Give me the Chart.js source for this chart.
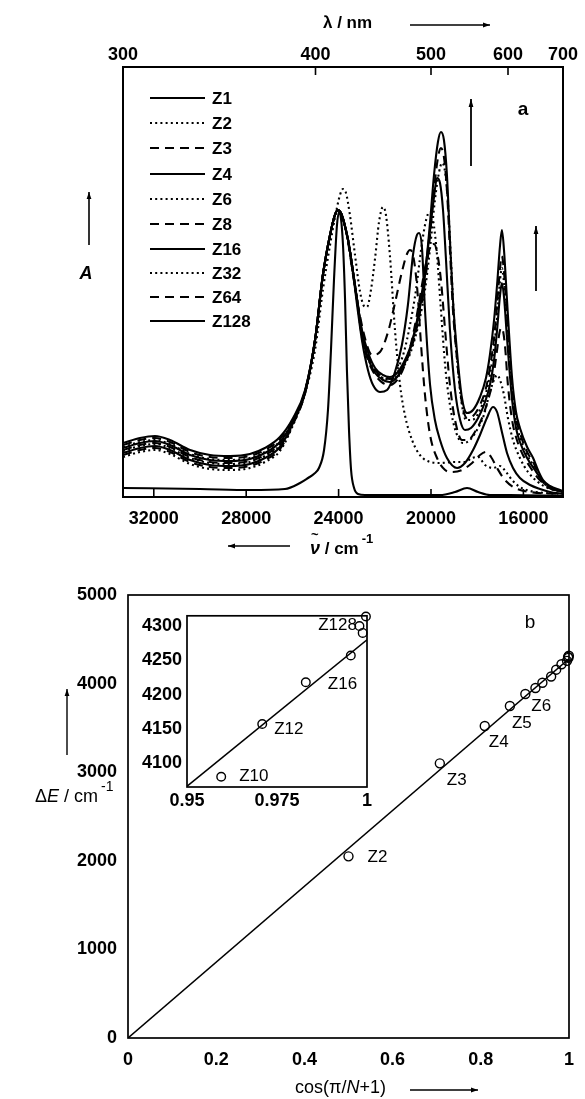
<!DOCTYPE html>
<html>
<head>
<meta charset="utf-8">
<script src="https://cdn.jsdelivr.net/npm/chart.js@4.4.1/dist/chart.umd.min.js"></script>
<style>
html,body{margin:0;padding:0;background:#fff;}
#wrap{position:relative;width:585px;height:1099px;overflow:hidden;background:#fff;}
canvas{position:absolute;display:block;}
</style>
</head>
<body>
<div id="wrap">
<canvas id="ca" width="585" height="560" style="left:0;top:0"></canvas>
<canvas id="cb" width="585" height="539" style="left:0;top:560px"></canvas>
<canvas id="ci" width="250" height="215" style="left:130px;top:600px"></canvas>
</div>
<script>
// ---------------- Panel a : absorption spectra (wavenumber / cm-1, relative absorbance) ----------------
const wnTicks = [32000, 28000, 24000, 20000, 16000];
const nmTicks = [300, 400, 500, 600, 700];
const seriesNames = ['Z1','Z2','Z3','Z4','Z6','Z8','Z16','Z32','Z64','Z128'];
const seriesStyle = ['solid','dotted','dashed','solid','dotted','dashed','solid','dotted','dashed','solid'];

const z1Wn = [33330,30000,27840,26320,25670,25320,25070,24850,24630,24460,24330,24200,24070,23980,23900,23810,23720,23640,23550,23460,23330,23160,22860,19610,18960,18440,17960,17450,16580,14290];
const z1A  = [9,8,7,8,14,19,23,29,47,87,147,217,272,285,279,252,197,127,67,27,9,3,2,2,5,9,5,2,2,1];

const z2Wn = [33330,32600,31950,31300,30430,29570,28700,27840,27190,26540,25970,25450,25020,24680,24370,24160,23940,23810,23680,23510,23290,23070,22900,22770,22600,22420,22250,22080,21950,21780,21560,21340,21130,20820,20480,20040,19610,18960,18530,18220,17960,17660,17320,17010,16750,16490,16150,15710,15070,14290];
const z2A  = [40,45,47,43,33,28,27,29,35,46,72,104,147,207,252,279,302,308,304,282,242,205,191,190,207,239,275,290,282,242,167,112,82,57,42,35,34,35,35,39,40,32,29,31,25,17,10,6,4,3];

const z3Wn = [33330,32600,31950,31300,30430,29570,28700,27840,27190,26540,25970,25450,25020,24680,24370,24160,24030,23900,23770,23590,23420,23200,22860,22550,22210,21860,21560,21260,21040,20910,20780,20610,20430,20260,20040,19740,19390,19090,18660,18220,17880,17620,17400,17140,16800,16360,15710,14290];
const z3A  = [42,47,49,45,35,30,29,31,37,48,73,104,157,222,262,282,287,284,275,255,229,197,159,142,145,165,194,225,243,247,242,212,152,102,62,39,27,25,27,34,42,45,40,29,17,9,5,3];

const z4Wn = [33330,32600,31950,31300,30430,29570,28700,27840,27190,26540,25970,25450,25020,24680,24370,24160,24030,23900,23770,23590,23420,23200,22990,22730,22510,22210,21900,21560,21260,21000,20780,20610,20520,20390,20260,20040,19830,19610,19310,18870,18530,18180,17880,17580,17320,17140,16930,16710,16450,16150,15710,15280,14850,14290];
const z4A  = [44,49,51,47,37,32,31,33,39,50,74,104,157,222,262,282,287,284,275,257,232,192,157,127,112,105,107,125,152,192,242,262,264,249,187,112,77,57,39,29,34,47,62,79,90,85,65,44,29,19,12,8,5,3];

const z6Wn = [33330,32600,31950,31300,30430,29570,28700,27840,27190,26540,25970,25450,25020,24680,24370,24160,24030,23900,23770,23590,23420,23200,22990,22730,22420,22080,21780,21470,21170,20910,20650,20430,20260,20130,20040,19910,19740,19570,19390,19180,18920,18610,18310,18010,17710,17450,17270,17140,17010,16840,16670,16450,16150,15800,15370,14940,14290];
const z6A  = [46,51,53,49,39,34,33,35,41,52,75,105,157,222,262,282,287,284,275,257,232,197,161,139,125,119,119,127,145,172,207,247,272,283,285,277,242,187,132,92,65,54,57,67,82,105,117,122,117,102,79,57,39,25,15,9,5];

const z8Wn = [33330,32600,31950,31300,30430,29570,28700,27840,27190,26540,25970,25450,25020,24680,24370,24160,24030,23900,23770,23590,23420,23200,22990,22730,22420,22080,21780,21470,21170,20910,20650,20390,20170,20000,19870,19740,19570,19390,19180,18960,18660,18400,18100,17790,17530,17320,17140,17010,16930,16800,16670,16490,16280,16020,15710,15370,14940,14290];
const z8A  = [47,52,54,50,40,35,34,36,42,53,75,105,157,222,262,282,287,284,275,257,232,197,160,137,122,114,112,117,130,149,177,212,239,251,253,245,217,167,112,77,57,57,65,79,97,117,147,167,169,152,112,77,57,42,30,19,10,5];

const z16Wn = [33330,32600,31950,31300,30430,29570,28700,27840,27190,26540,25970,25450,25020,24680,24370,24160,24030,23900,23770,23590,23420,23200,22990,22730,22420,22080,21780,21470,21170,20910,20690,20480,20260,20040,19870,19740,19610,19480,19350,19180,18960,18740,18530,18270,17960,17660,17450,17270,17140,17010,16930,16840,16710,16490,16320,16150,15840,15500,15190,14850,14290];
const z16A  = [49,54,56,52,42,37,36,38,44,55,76,106,157,222,262,282,287,284,275,257,232,197,162,139,124,117,115,120,132,147,167,192,225,267,300,319,314,287,237,167,107,77,67,69,79,95,112,137,167,202,214,200,159,97,69,55,39,27,17,10,5];

const z32Wn = [33330,32600,31950,31300,30430,29570,28700,27840,27190,26540,25970,25450,25020,24680,24370,24160,24030,23900,23770,23590,23420,23200,22990,22730,22420,22080,21780,21470,21170,20910,20690,20480,20260,20040,19830,19650,19520,19390,19260,19130,19000,18830,18660,18480,18220,17880,17620,17450,17270,17140,17010,16930,16840,16710,16490,16320,16150,15840,15580,15280,14940,14290];
const z32A  = [50,55,57,53,43,38,37,39,45,56,77,106,157,222,262,282,287,284,275,257,232,197,164,141,126,119,117,121,131,143,159,179,207,249,297,325,334,325,292,235,177,127,92,77,77,87,104,122,150,179,217,229,214,172,105,75,60,42,32,19,10,5];

const z64Wn = [33330,32600,31950,31300,30430,29570,28700,27840,27190,26540,25970,25450,25020,24680,24370,24160,24030,23900,23770,23590,23420,23200,22990,22730,22420,22080,21780,21470,21170,20910,20690,20480,20260,20040,19870,19700,19570,19440,19310,19180,19050,18870,18660,18440,18180,17880,17620,17450,17270,17140,17010,16930,16840,16710,16490,16320,16150,15840,15580,15370,15150,14850,14290];
const z64A  = [52,57,59,55,45,40,39,41,47,58,78,106,157,222,262,282,287,284,275,257,232,197,165,142,127,120,118,122,132,145,162,184,215,262,307,339,349,340,307,247,187,137,94,79,81,92,109,129,159,192,229,241,225,182,112,79,64,45,35,24,15,9,5];

const z128Wn = [33330,32600,31950,31300,30430,29570,28700,27840,27190,26540,25970,25450,25020,24680,24370,24160,24030,23900,23770,23590,23420,23200,22990,22730,22420,22080,21780,21470,21170,20910,20690,20480,20260,20040,19870,19700,19570,19440,19310,19180,19050,18870,18660,18440,18180,17880,17620,17450,17270,17140,17010,16930,16840,16710,16490,16320,16150,15840,15580,15370,15150,14850,14420,14290];
const z128A  = [54,59,61,57,47,42,41,43,49,60,79,107,157,222,262,282,287,284,275,257,232,197,167,145,129,122,120,124,135,149,167,189,222,275,322,355,365,357,322,257,197,144,99,84,87,100,119,142,177,212,252,267,247,197,119,85,69,50,39,27,17,11,7,6];

const seriesWn = [z1Wn,z2Wn,z3Wn,z4Wn,z6Wn,z8Wn,z16Wn,z32Wn,z64Wn,z128Wn];
const seriesA  = [z1A,z2A,z3A,z4A,z6A,z8A,z16A,z32A,z64A,z128A];

// ---------------- Panel b : exciton splitting vs cos(pi/(N+1)) ----------------
const bNames = ['Z2','Z3','Z4','Z5','Z6','Z7','Z8','Z10','Z12','Z16','Z32','Z48','Z64','Z128'];
const bCos   = [0.5,0.7071,0.809,0.866,0.901,0.9239,0.9397,0.9595,0.9709,0.983,0.9955,0.9979,0.9988,0.9997];
const bDE    = [2050,3100,3521,3747,3883,3950,4010,4080,4157,4218,4257,4300,4290,4314];
const fitCos = [0, 1];
const fitDE  = [0, 4280];
const bXTicks = [0,0.2,0.4,0.6,0.8,1];
const bYTicks = [0,1000,2000,3000,4000,5000];
const inXTicks = [0.95,0.975,1];
const inYTicks = [4100,4150,4200,4250,4300];

// ---------------- helpers ----------------
const FONT = '"Liberation Sans", Arial, Helvetica, sans-serif';
const DASH = {solid: [], dotted: [2, 3.2], dashed: [9, 6]};

function arrow(ctx, x1, y1, x2, y2, L, W) {
  L = L || 7; W = W || 2.6;
  ctx.beginPath(); ctx.moveTo(x1, y1); ctx.lineTo(x2, y2); ctx.stroke();
  const a = Math.atan2(y2 - y1, x2 - x1);
  ctx.beginPath();
  ctx.moveTo(x2, y2);
  ctx.lineTo(x2 - L*Math.cos(a) + W*Math.sin(a), y2 - L*Math.sin(a) - W*Math.cos(a));
  ctx.lineTo(x2 - L*Math.cos(a) - W*Math.sin(a), y2 - L*Math.sin(a) + W*Math.cos(a));
  ctx.closePath(); ctx.fill();
}
function frame(lw) {
  return {id: 'frame', afterDatasetsDraw(chart) {
    const {ctx, chartArea: a} = chart;
    ctx.save(); ctx.strokeStyle = '#000'; ctx.lineWidth = lw; ctx.setLineDash([]);
    ctx.strokeRect(a.left, a.top, a.right - a.left, a.bottom - a.top);
    ctx.restore();
  }};
}
const fixedTicks = arr => s => { s.ticks = arr.map(v => ({value: v})); };
const numLabel = v => String(+v.toFixed(4));

// ---------------- Chart a ----------------
const tickFontA = {family: FONT, size: 18, weight: 'bold'};
const decorA = {
  id: 'decorA',
  afterDraw(chart) {
    const ctx = chart.ctx, a = chart.chartArea, xs = chart.scales.x;
    ctx.save();
    ctx.strokeStyle = '#000'; ctx.fillStyle = '#000'; ctx.lineWidth = 1.6; ctx.setLineDash([]);
    // inward tick marks
    wnTicks.forEach(v => { const px = xs.getPixelForValue(v); ctx.beginPath(); ctx.moveTo(px, a.bottom); ctx.lineTo(px, a.bottom - 8); ctx.stroke(); });
    nmTicks.forEach(n => { const px = xs.getPixelForValue(1e7 / n); ctx.beginPath(); ctx.moveTo(px, a.top); ctx.lineTo(px, a.top + 8); ctx.stroke(); });
    // legend
    const rows = [98,123,148,174,199,224,249,273,297,321];
    ctx.textBaseline = 'middle'; ctx.textAlign = 'left';
    ctx.font = 'bold 17px ' + FONT;
    chart.data.datasets.forEach((d, i) => {
      ctx.save(); ctx.lineWidth = 2.2; ctx.setLineDash(d.borderDash || []);
      ctx.beginPath(); ctx.moveTo(150, rows[i]); ctx.lineTo(205, rows[i]); ctx.stroke();
      ctx.restore();
      ctx.fillText(d.label, 212, rows[i] + 1);
    });
    // top axis title
    ctx.font = 'bold 17px ' + FONT;
    ctx.fillText('\u03BB / nm', 323, 23);
    ctx.lineWidth = 1.3;
    arrow(ctx, 410, 25, 490, 25, 7, 2.4);
    // bottom axis title
    arrow(ctx, 290, 546, 228, 546, 7, 2.4);
    ctx.font = 'italic bold 18px ' + FONT;
    ctx.fillText('\u03BD', 310, 549);
    ctx.font = 'bold 13px ' + FONT;
    ctx.fillText('~', 311, 535);
    ctx.font = 'bold 17px ' + FONT;
    ctx.fillText(' / cm', 320, 549);
    const w = ctx.measureText(' / cm').width;
    ctx.font = 'bold 13px ' + FONT;
    ctx.fillText('-1', 320 + w + 3, 539);
    // A label
    ctx.lineWidth = 1.6;
    arrow(ctx, 89, 245, 89, 192, 7, 2.4);
    ctx.textAlign = 'center';
    ctx.font = 'italic bold 18px ' + FONT;
    ctx.fillText('A', 86, 274);
    // panel letter and arrows
    ctx.font = 'bold 19px ' + FONT;
    ctx.fillText('a', 523, 110);
    ctx.lineWidth = 1.8;
    arrow(ctx, 471, 166, 471, 99, 8, 2.4);
    arrow(ctx, 536, 291, 536, 226, 8, 2.4);
    ctx.restore();
  }
};

new Chart(document.getElementById('ca'), {
  type: 'line',
  data: {
    datasets: seriesNames.map((name, i) => ({
      label: name,
      data: seriesWn[i].map((w, j) => ({x: w, y: seriesA[i][j]})),
      borderColor: '#000',
      borderWidth: 2.1,
      borderDash: DASH[seriesStyle[i]],
      pointRadius: 0,
      fill: false,
      cubicInterpolationMode: 'monotone'
    }))
  },
  options: {
    responsive: false, animation: false,
    layout: {padding: {left: 123, right: 22, top: 0, bottom: 0}},
    plugins: {legend: {display: false}, tooltip: {enabled: false}},
    scales: {
      x: {type: 'linear', position: 'bottom', reverse: true, min: 14285.7, max: 33333.4,
          afterBuildTicks: fixedTicks(wnTicks), afterFit: s => { s.height = 63; },
          ticks: {font: tickFontA, color: '#000', padding: 11, maxRotation: 0, autoSkip: false, callback: v => String(v)},
          grid: {display: false, drawTicks: false}, border: {display: false}},
      x2: {type: 'linear', position: 'top', reverse: true, min: 14285.7, max: 33333.4,
          afterBuildTicks: s => { s.ticks = nmTicks.map(n => ({value: 1e7 / n})); }, afterFit: s => { s.height = 67; },
          ticks: {font: tickFontA, color: '#000', padding: 1, maxRotation: 0, autoSkip: false, callback: v => String(Math.round(1e7 / v))},
          grid: {display: false, drawTicks: false}, border: {display: false}},
      y: {display: false, min: 0, max: 430}
    }
  },
  plugins: [frame(2), decorA]
});

// ---------------- Chart b (main) ----------------
const tickFontB = {family: FONT, size: 18, weight: 'bold'};
const decorB = {
  id: 'decorB',
  afterDraw(chart) {
    const ctx = chart.ctx;
    ctx.save(); ctx.fillStyle = '#000'; ctx.strokeStyle = '#000'; ctx.setLineDash([]);
    ctx.textBaseline = 'middle'; ctx.textAlign = 'left';
    // y title
    let x = 35; const y = 237;
    ctx.font = '18px ' + FONT; ctx.fillText('\u0394', x, y); x += ctx.measureText('\u0394').width;
    ctx.font = 'italic 18px ' + FONT; ctx.fillText('E', x, y); x += ctx.measureText('E').width;
    ctx.font = '18px ' + FONT; ctx.fillText(' / cm', x, y); x += ctx.measureText(' / cm').width;
    ctx.font = '14px ' + FONT; ctx.fillText('-1', x + 3, y - 10);
    ctx.lineWidth = 1.4;
    arrow(ctx, 67, 195, 67, 129, 7, 2.4);
    // x title
    let cx = 295; const cy = 528;
    ctx.font = '18px ' + FONT; ctx.fillText('cos(\u03C0/', cx, cy); cx += ctx.measureText('cos(\u03C0/').width;
    ctx.font = 'italic 18px ' + FONT; ctx.fillText('N', cx, cy); cx += ctx.measureText('N').width;
    ctx.font = '18px ' + FONT; ctx.fillText('+1)', cx, cy);
    arrow(ctx, 410, 530, 478, 530, 7, 2.4);
    // panel letter
    ctx.font = '19px ' + FONT; ctx.textAlign = 'center';
    ctx.fillText('b', 530, 63);
    // point labels
    const meta = chart.getDatasetMeta(1);
    const off = {Z2: [19, 1], Z3: [7, 17], Z4: [4, 16], Z5: [2, 17], Z6: [6, 12]};
    ctx.font = '17px ' + FONT; ctx.textAlign = 'left';
    bNames.forEach((n, i) => {
      if (!off[n]) return;
      const p = meta.data[i];
      ctx.fillText(n, p.x + off[n][0], p.y + off[n][1]);
    });
    ctx.restore();
  }
};

new Chart(document.getElementById('cb'), {
  type: 'scatter',
  data: {
    datasets: [
      {data: fitCos.map((c, i) => ({x: c, y: fitDE[i]})), showLine: true, borderColor: '#000', borderWidth: 1.5, pointRadius: 0, fill: false},
      {data: bCos.map((c, i) => ({x: c, y: bDE[i]})), showLine: false, pointStyle: 'circle', pointRadius: 4.5,
       borderColor: '#000', backgroundColor: 'rgba(255,255,255,0)', pointBorderWidth: 1.4, clip: false}
    ]
  },
  options: {
    responsive: false, animation: false,
    layout: {padding: {left: 0, right: 9, top: 35, bottom: 0}},
    plugins: {legend: {display: false}, tooltip: {enabled: false}},
    scales: {
      x: {type: 'linear', min: 0, max: 1, afterBuildTicks: fixedTicks(bXTicks), afterFit: s => { s.height = 61; },
          ticks: {font: tickFontB, color: '#000', padding: 11, maxRotation: 0, autoSkip: false, callback: numLabel},
          grid: {display: false, drawTicks: false}, border: {display: false}},
      y: {type: 'linear', min: 0, max: 5000, afterBuildTicks: fixedTicks(bYTicks), afterFit: s => { s.width = 128; },
          ticks: {font: tickFontB, color: '#000', padding: 11, autoSkip: false, callback: v => String(v)},
          grid: {display: false, drawTicks: false}, border: {display: false}}
    }
  },
  plugins: [frame(1.7), decorB]
});

// ---------------- Chart b (inset) ----------------
const insetIdx = bCos.map((c, i) => i).filter(i => bCos[i] >= 0.95);
const decorI = {
  id: 'decorI',
  afterDraw(chart) {
    const ctx = chart.ctx;
    ctx.save(); ctx.fillStyle = '#000';
    ctx.font = '17px ' + FONT; ctx.textBaseline = 'middle';
    const meta = chart.getDatasetMeta(1);
    const off = {Z10: [18, 0, 'left'], Z12: [12, 5, 'left'], Z16: [22, 2, 'left'], Z128: [-9, 9, 'right']};
    insetIdx.forEach((bi, k) => {
      const n = bNames[bi];
      if (!off[n]) return;
      const p = meta.data[k];
      ctx.textAlign = off[n][2];
      ctx.fillText(n, p.x + off[n][0], p.y + off[n][1]);
    });
    ctx.restore();
  }
};
new Chart(document.getElementById('ci'), {
  type: 'scatter',
  data: {
    datasets: [
      {data: fitCos.map((c, i) => ({x: c, y: fitDE[i]})), showLine: true, borderColor: '#000', borderWidth: 1.5, pointRadius: 0, fill: false},
      {data: insetIdx.map(i => ({x: bCos[i], y: bDE[i]})), showLine: false, pointStyle: 'circle', pointRadius: 4.3,
       borderColor: '#000', backgroundColor: 'rgba(255,255,255,0)', pointBorderWidth: 1.4, clip: false}
    ]
  },
  options: {
    responsive: false, animation: false,
    layout: {padding: {left: 0, right: 13, top: 13, bottom: 0}},
    plugins: {legend: {display: false}, tooltip: {enabled: false}},
    scales: {
      x: {type: 'linear', min: 0.95, max: 1, afterBuildTicks: fixedTicks(inXTicks), afterFit: s => { s.height = 28; },
          ticks: {font: tickFontB, color: '#000', padding: 3, maxRotation: 0, autoSkip: false, callback: numLabel},
          grid: {display: false, drawTicks: false}, border: {display: false}},
      y: {type: 'linear', min: 4065, max: 4315, afterBuildTicks: fixedTicks(inYTicks), afterFit: s => { s.width = 57; },
          ticks: {font: tickFontB, color: '#000', padding: 5, autoSkip: false, callback: v => String(v)},
          grid: {display: false, drawTicks: false}, border: {display: false}}
    }
  },
  plugins: [frame(1.7), decorI]
});
</script>
</body>
</html>
